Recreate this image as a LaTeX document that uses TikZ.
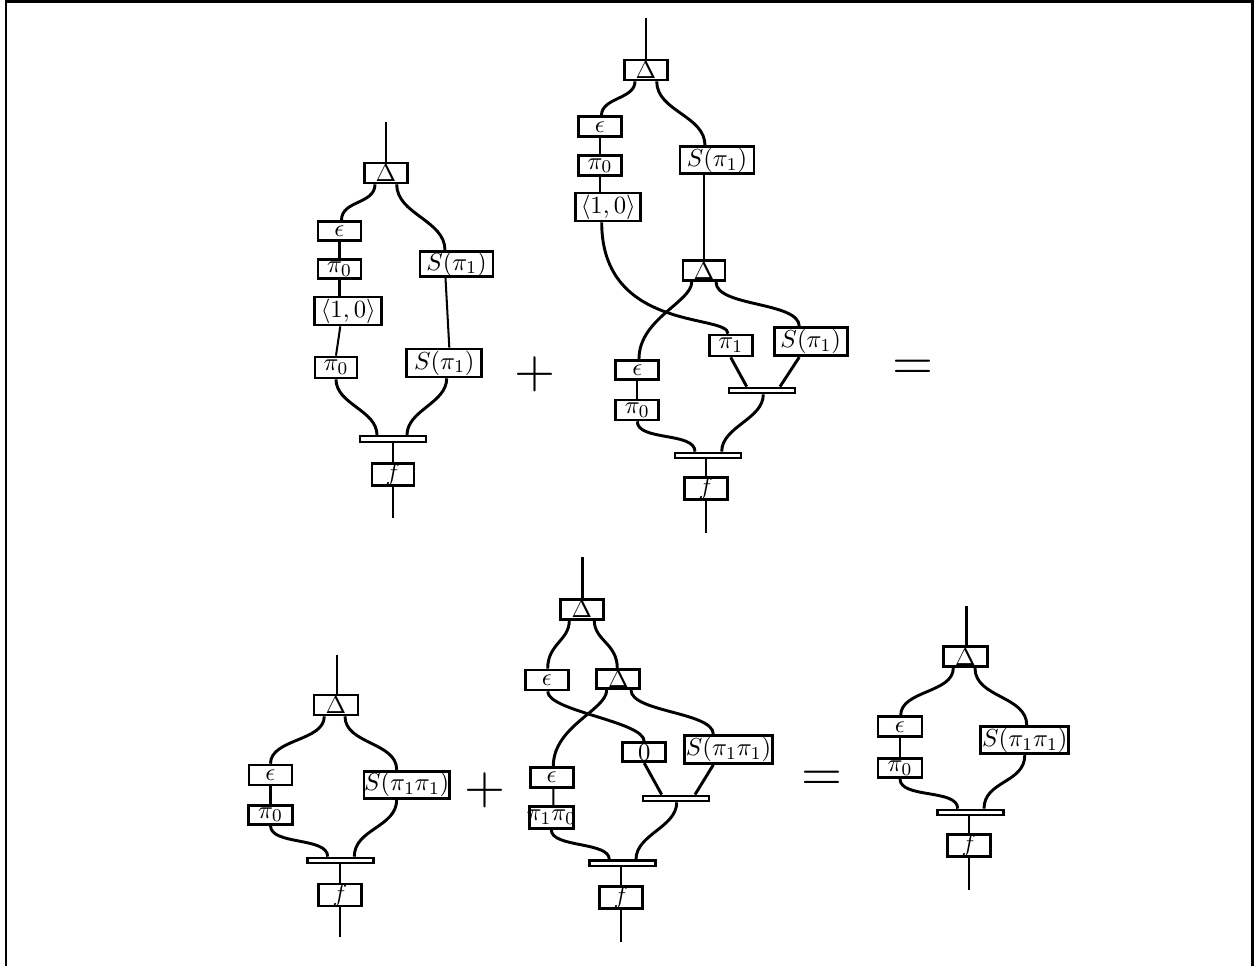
\documentclass[tikz,border=0pt]{standalone}
\usepackage{graphicx}
\usetikzlibrary{calc}
\tikzset{
  bx/.style 2 args={draw, line width=1.2pt, inner sep=0pt, fill=white,
    minimum width=#1*0.444pt, minimum height=#2*0.444pt,
    font=\fontsize{10.95}{13}\selectfont},
  barx/.style={draw, line width=1pt, fill=white, inner sep=0pt,
    minimum width=66*0.444pt, minimum height=5.5*0.444pt},
  wire/.style={line width=1.3pt},
  thinw/.style={line width=0.9pt},
  sign/.style={inner sep=0pt},
}
\newcommand{\bigsign}[1]{\scalebox{2.34}{$#1$}}
\begin{document}
\begin{tikzpicture}[x=0.444pt,y=-0.444pt]
\useasboundingbox (0,0) rectangle (1254,966);
\draw[line width=1.3pt] (6,966) -- (6,1.5) -- (1252.5,1.5) -- (1252.5,966);

% ---------------- Diagram A (top left)
\coordinate (Atop) at (386,122);
\node[bx={43}{20}] (Ad) at (386,173) {$\Delta$};
\node[bx={43}{19}] (Ae) at (339.5,231) {$\epsilon$};
\node[bx={43}{19}] (Ap) at (339.5,269) {$\pi_0$};
\node[bx={67}{28}] (Ah) at (348.3,311) {$\langle 1,0\rangle$};
\node[bx={42}{21}] (Aq) at (336,367.5) {$\pi_0$};
\node[bx={73}{25}] (As1) at (456.5,264) {$S(\pi_1)$};
\node[bx={75}{28}] (As2) at (444.3,363) {$S(\pi_1)$};
\node[barx] (Ab) at (393,439) {};
\node[bx={42}{21}] (Af) at (393,474.5) {$f$};
\coordinate (Abot) at (393,518);
\draw[wire] (Atop) -- (Ad.north);
\draw[wire] ($(Ad.south)+(-11,0)$) .. controls +(0,20) and +(0,-20) .. ($(Ae.north)+(2,0)$);
\draw[wire] ($(Ad.south)+(10.7,0)$) .. controls +(0,30) and +(0,-30) .. ($(As1.north)+(-11.5,0)$);
\draw[thinw] (Ae.south) -- (Ap.north);
\draw[wire] (Ap.south) -- (Ap.south |- Ah.north);
\draw[thinw] ($(Ah.south)+(-8,0)$) -- (Aq.north);
\draw[thinw] ($(As1.south)+(-11,0)$) -- ($(As2.north)+(5,0)$);
\draw[wire] (Aq.south) .. controls +(0,25) and +(0,-25) .. ($(Ab.north)+(-16,0)$);
\draw[wire] ($(As2.south)+(2.4,0)$) .. controls +(0,25) and +(0,-25) .. ($(Ab.north)+(14,0)$);
\draw[wire] (Ab.south) -- (Af.north);
\draw[wire] (Af.south) -- (Abot);

\node[sign] (plus1) at (535.3,374) {\bigsign{+}};

% ---------------- Diagram B (top middle)
\coordinate (Btop) at (646,18);
\node[bx={43}{20}] (Bd) at (646,70) {$\Delta$};
\node[bx={43}{20}] (Be) at (600,126.7) {$\epsilon$};
\node[bx={43}{20}] (Bp) at (600,165.7) {$\pi_0$};
\node[bx={65}{28}] (Bh) at (608.3,207) {$\langle 1,0\rangle$};
\node[bx={74}{27}] (Bs) at (717,160.3) {$S(\pi_1)$};
\node[bx={42}{20}] (Bd2) at (704,270.7) {$\Delta$};
\node[bx={43}{19}] (Be2) at (637.3,369.7) {$\epsilon$};
\node[bx={43}{20}] (Bp2) at (637.3,410) {$\pi_0$};
\node[bx={43}{21}] (Bq) at (730.7,345.5) {$\pi_1$};
\node[bx={73}{28}] (Bs2) at (810.7,341.8) {$S(\pi_1)$};
\node[barx] (Bb1) at (762,390.5) {};
\node[barx] (Bb2) at (707.7,455.5) {};
\node[bx={43}{21}] (Bf) at (706,488.8) {$f$};
\coordinate (Bbot) at (706,533);
\draw[wire] (Btop) -- (Bd.north);
\draw[wire] ($(Bd.south)+(-11,0)$) .. controls +(0,18) and +(0,-18) .. ($(Be.north)+(1.5,0)$);
\draw[wire] ($(Bd.south)+(10.7,0)$) .. controls +(0,30) and +(0,-30) .. ($(Bs.north)+(-12,0)$);
\draw[thinw] (Be.south) -- (Bp.north);
\draw[thinw] (Bp.south) -- (Bp.south |- Bh.north);
\draw[wire] (Bs.south -| Bd2.north) -- (Bd2.north);
\draw[wire] ($(Bh.south)+(-6.6,0)$) .. controls +(0,110) and +(0,-20) .. ($(Bq.north)+(-2.7,0)$);
\draw[wire] ($(Bd2.south)+(-12.3,0)$) .. controls +(0,20) and +(0,-40) .. ($(Be2.north)+(1.7,0)$);
\draw[wire] ($(Bd2.south)+(12,0)$) .. controls +(0,25) and +(0,-25) .. ($(Bs2.north)+(-11.4,0)$);
\draw[thinw] (Be2.south) -- (Bp2.north);
\draw[wire] (Bp2.south) .. controls +(0,20) and +(0,-20) .. ($(Bb2.north)+(-12.7,0)$);
\draw[wire] (Bq.south) -- ($(Bb1.north)+(-15.3,0)$);
\draw[wire] ($(Bs2.south)+(-11.4,0)$) -- ($(Bb1.north)+(18,0)$);
\draw[wire] ($(Bb1.south)+(1.3,0)$) .. controls +(0,25) and +(0,-25) .. ($(Bb2.north)+(14,0)$);
\draw[wire] (Bb2.south -| Bf.north) -- (Bf.north);
\draw[wire] (Bf.south) -- (Bbot);

\node[sign] (eq1) at (913,369.5) {\bigsign{=}};

% ---------------- Diagram C (bottom left)
\coordinate (Ctop) at (337,655);
\node[bx={44}{20}] (Cd) at (336,705) {$\Delta$};
\node[bx={43}{20}] (Ce) at (270.5,775) {$\epsilon$};
\node[bx={44}{19}] (Cp) at (270.5,814.7) {$\pi_0$};
\node[bx={83}{27}] (Cs) at (406.7,784.7) {$S(\pi_1\pi_1)$};
\node[barx] (Cb) at (340.5,860.5) {};
\node[bx={43}{21}] (Cf) at (340,895) {$f$};
\coordinate (Cbot) at (340,936.7);
\draw[wire] (Ctop) -- (Ctop |- Cd.north);
\draw[wire] ($(Cd.south)+(-11.7,0)$) .. controls +(0,25) and +(0,-25) .. (Ce.north);
\draw[wire] ($(Cd.south)+(9,0)$) .. controls +(0,28) and +(0,-28) .. ($(Cs.north)+(-10,0)$);
\draw[wire] (Ce.south) -- (Cp.north);
\draw[wire] (Cp.south) .. controls +(0,20) and +(0,-20) .. ($(Cb.north)+(-12.8,0)$);
\draw[wire] ($(Cs.south)+(-10,0)$) .. controls +(0,28) and +(0,-28) .. ($(Cb.north)+(13.8,0)$);
\draw[wire] (Cb.south -| Cf.north) -- (Cf.north);
\draw[wire] (Cf.south) -- (Cbot);

\node[sign] (plus2) at (485,790) {\bigsign{+}};

% ---------------- Diagram D (bottom middle)
\coordinate (Dtop) at (582.5,557.3);
\node[bx={43}{20}] (Dd) at (582,609.2) {$\Delta$};
\node[bx={43}{20}] (De) at (547,680) {$\epsilon$};
\node[bx={43}{19}] (Dd2) at (618.3,679.2) {$\Delta$};
\node[bx={43}{19}] (D0) at (644.2,752.2) {$0$};
\node[bx={88}{28}] (Ds) at (728.5,749.5) {$S(\pi_1\pi_1)$};
\node[bx={43}{20}] (De2) at (551.7,777.5) {$\epsilon$};
\node[bx={44}{22}] (Dp) at (551.3,817.5) {};
\node[inner sep=0pt, font=\fontsize{10.95}{13}\selectfont] (Dpt) at (Dp) {$\pi_1\pi_0$};
\node[barx] (Db1) at (676,798.5) {};
\node[barx] (Db2) at (622.5,863.3) {};
\node[bx={43}{21}] (Df) at (621,897.2) {$f$};
\coordinate (Dbot) at (621,941.7);
\draw[wire] (Dtop) -- (Dtop |- Dd.north);
\draw[wire] ($(Dd.south)+(-12.7,0)$) .. controls +(0,20) and +(0,-25) .. ($(De.north)+(0.7,0)$);
\draw[wire] ($(Dd.south)+(12.3,0)$) .. controls +(0,20) and +(0,-25) .. ($(Dd2.north)+(-1,0)$);
\draw[wire] ($(De.south)+(0.7,0)$) .. controls +(0,20) and +(0,-20) .. (D0.north);
\draw[wire] ($(Dd2.south)+(-11.6,0)$) .. controls +(0,20) and +(0,-40) .. ($(De2.north)+(1.6,0)$);
\draw[wire] ($(Dd2.south)+(12.7,0)$) .. controls +(0,22) and +(0,-22) .. ($(Ds.north)+(-15.2,0)$);
\draw[thinw] ($(De2.south)+(1.6,0)$) -- ($(Dp.north)+(2,0)$);
\draw[wire] (D0.south) -- ($(Db1.north)+(-14.3,0)$);
\draw[wire] ($(Ds.south)+(-15.2,0)$) -- ($(Db1.north)+(19,0)$);
\draw[wire] ($(Db1.south)+(0.7,0)$) .. controls +(0,25) and +(0,-25) .. ($(Db2.north)+(13.5,0)$);
\draw[wire] (Dp.south) .. controls +(0,18) and +(0,-18) .. ($(Db2.north)+(-13.2,0)$);
\draw[wire] (Db2.south -| Df.north) -- (Df.north);
\draw[wire] (Df.south) -- (Dbot);

\node[sign] (eq2) at (822,781) {\bigsign{=}};

% ---------------- Diagram E (bottom right)
\coordinate (Etop) at (966.5,606);
\node[bx={44}{20}] (Ed) at (965.5,656.7) {$\Delta$};
\node[bx={44}{20}] (Ee) at (900,726.7) {$\epsilon$};
\node[bx={44}{19}] (Ep) at (900,768) {$\pi_0$};
\node[bx={88}{27}] (Es) at (1024.8,740.3) {$S(\pi_1\pi_1)$};
\node[barx] (Eb) at (970.5,812.5) {};
\node[bx={43}{20}] (Ef) at (969,845.8) {$f$};
\coordinate (Ebot) at (969,890);
\draw[wire] (Etop) -- (Etop |- Ed.north);
\draw[wire] ($(Ed.south)+(-12.2,0)$) .. controls +(0,25) and +(0,-25) .. ($(Ee.north)+(0.7,0)$);
\draw[wire] ($(Ed.south)+(9.5,0)$) .. controls +(0,30) and +(0,-30) .. ($(Es.north)+(2,0)$);
\draw[wire] (Ee.south) -- (Ep.north);
\draw[wire] (Ep.south) .. controls +(0,20) and +(0,-20) .. ($(Eb.north)+(-12.8,0)$);
\draw[wire] (Es.south) .. controls +(0,28) and +(0,-28) .. ($(Eb.north)+(13.5,0)$);
\draw[wire] (Eb.south -| Ef.north) -- (Ef.north);
\draw[wire] (Ef.south) -- (Ebot);
\end{tikzpicture}
\end{document}
